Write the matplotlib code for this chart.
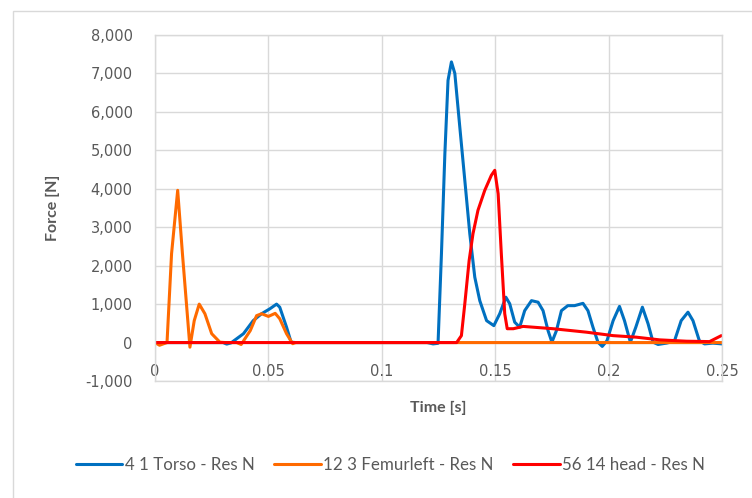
import matplotlib
matplotlib.use("Agg")
import matplotlib.pyplot as plt
from matplotlib.patches import Rectangle
from matplotlib.ticker import FuncFormatter, MultipleLocator

# ---- data ----
t_torso = [0, 0.030, 0.0316, 0.0335, 0.039, 0.0433, 0.047, 0.0507, 0.0536, 0.055,
           0.058, 0.060, 0.062, 0.120, 0.1226, 0.1248, 0.1263, 0.1278, 0.1292, 0.1307,
           0.1322, 0.1344, 0.1366, 0.1388, 0.141, 0.1432, 0.1462, 0.1494, 0.152, 0.1547,
           0.1564, 0.1586, 0.1608, 0.163, 0.166, 0.1689, 0.1711, 0.1733, 0.175, 0.177,
           0.1792, 0.182, 0.185, 0.1887, 0.1909, 0.1931, 0.1953, 0.1972, 0.1993, 0.202,
           0.2048, 0.207, 0.2096, 0.212, 0.2149, 0.2174, 0.2196, 0.2218, 0.2255, 0.229,
           0.232, 0.235, 0.2372, 0.240, 0.2423, 0.246, 0.25]
f_torso = [0, 0, -40, -10, 230, 570, 750, 880, 1000, 920,
           400, 10, 0, 0, -35, -20, 2310, 4900, 6820, 7300,
           7000, 5600, 4220, 2830, 1700, 1090, 570, 440, 750, 1180,
           1010, 530, 400, 830, 1090, 1050, 830, 310, 10, 310,
           830, 960, 960, 1020, 830, 400, 10, -100, 50, 570,
           940, 570, 10, 400, 920, 490, 10, -50, -15, 35,
           570, 790, 570, 50, -35, -15, -35]

t_femur = [0, 0.002, 0.0053, 0.0073, 0.010, 0.0121, 0.0154, 0.0173, 0.0195, 0.022,
           0.025, 0.0286, 0.031, 0.036, 0.038, 0.042, 0.0448, 0.047, 0.050, 0.053,
           0.055, 0.058, 0.0607, 0.062, 0.25]
f_femur = [0, -70, 0, 2310, 3960, 2310, -120, 570, 1000, 750,
           230, 10, 0, 0, -50, 310, 700, 750, 680, 760,
           620, 230, -30, 0, 0]

t_head = [0, 0.133, 0.1351, 0.1366, 0.1385, 0.1402, 0.1424, 0.1454, 0.1483, 0.1498,
          0.1513, 0.1527, 0.1542, 0.1553, 0.158, 0.1623, 0.1755, 0.1902, 0.202, 0.2122,
          0.2225, 0.2343, 0.2445, 0.2497]
f_head = [0, 0, 180, 1010, 2130, 2830, 3440, 3960, 4350, 4480,
          3870, 2310, 750, 360, 360, 420, 360, 270, 180, 140,
          70, 35, 25, 180]

series_names = ["4 1 Torso - Res N", "12 3 Femurleft - Res N", "56 14 head - Res N"]
series_colors = ["#0070C0", "#FF6A00", "#FF0000"]

x_ticks = [0, 0.05, 0.1, 0.15, 0.2, 0.25]
x_tick_labels = ["0", "0.05", "0.1", "0.15", "0.2", "0.25"]

# ---- figure ----
W, H, DPI = 752, 498, 100
fig = plt.figure(figsize=(W / DPI, H / DPI), dpi=DPI)
fig.patch.set_facecolor("white")

# outer chart frame (Excel chart area border)
fig.patches.append(Rectangle((13 / W, 0 - 0.02), 1.05, 1 - 11 / H + 0.02,
                             transform=fig.transFigure, fill=False,
                             edgecolor="#D9D9D9", linewidth=1.0))

ax = fig.add_axes([155 / W, 1 - 381 / H, 567 / W, 346 / H])

grey_txt = "#595959"
grid_c = "#D9D9D9"

for t, f, c, n in zip([t_torso, t_femur, t_head], [f_torso, f_femur, f_head],
                      series_colors, series_names):
    ax.plot(t, f, color=c, linewidth=2.2, label=n, solid_joinstyle="round",
            solid_capstyle="round")

ax.set_xlim(0, 0.25)
ax.set_ylim(-1000, 8000)
ax.yaxis.set_major_locator(MultipleLocator(1000))
ax.yaxis.set_major_formatter(FuncFormatter(lambda v, p: f"{int(v):,}"))
ax.set_xticks(x_ticks)
ax.set_xticklabels(x_tick_labels)

ax.grid(True, color=grid_c, linewidth=1.0)
ax.set_axisbelow(True)
for s in ax.spines.values():
    s.set_color(grid_c)
    s.set_linewidth(1.0)

ax.tick_params(axis="y", length=0, pad=16, labelsize=10.5, labelcolor=grey_txt)
ax.tick_params(axis="x", length=0, pad=-1.5, labelsize=10.5, labelcolor=grey_txt)
for lbl in ax.get_xticklabels():
    lbl.set_verticalalignment("bottom")

ax.set_xlabel("Time [s]", fontsize=11.5, fontweight="bold", color=grey_txt,
              family=["Lato", "DejaVu Sans"], labelpad=14)
ax.set_ylabel("Force [N]", fontsize=11.5, fontweight="bold", color=grey_txt,
              family=["Lato", "DejaVu Sans"], labelpad=18)

leg = fig.legend(loc="center", bbox_to_anchor=(0.519, 1 - 465 / H), ncol=3,
                 frameon=False, handlelength=2.75, columnspacing=1.15,
                 handletextpad=0.15,
                 prop={"family": ["Lato", "DejaVu Sans"], "size": 12.2})
for txt in leg.get_texts():
    txt.set_color(grey_txt)

fig.savefig("out.png", dpi=DPI, facecolor="white")
